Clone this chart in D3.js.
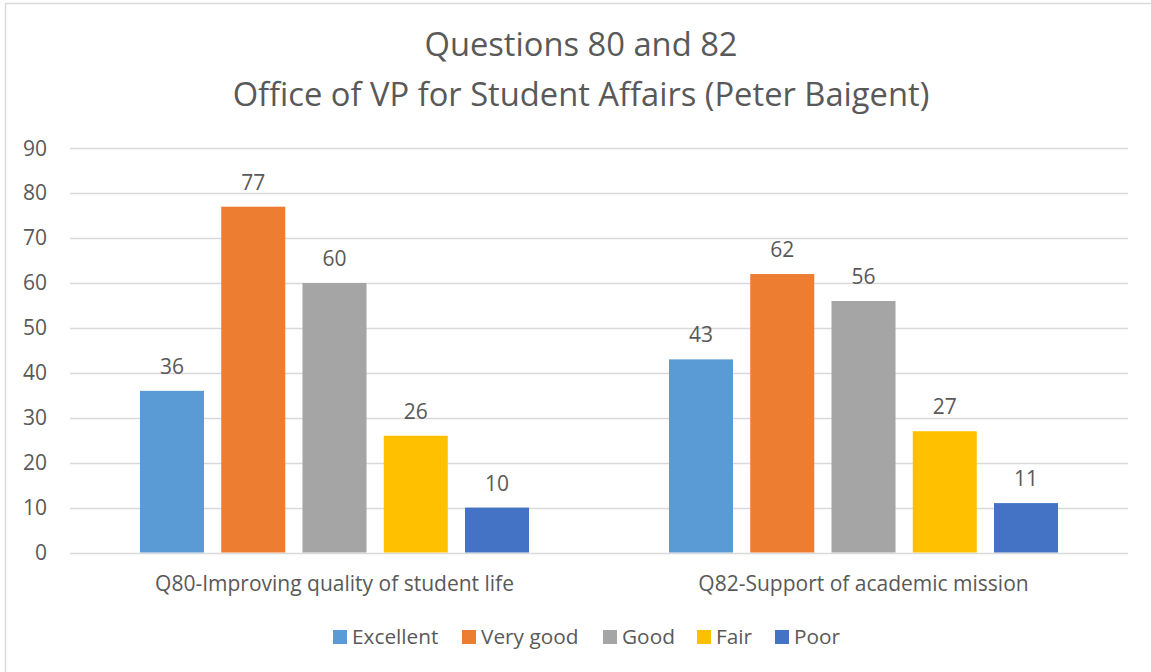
<!DOCTYPE html>
<html>
<head>
<meta charset="utf-8">
<script src="https://cdn.jsdelivr.net/npm/d3@7/dist/d3.min.js"></script>
<style>
  html, body { margin: 0; padding: 0; background: #fff; }
  svg { display: block; }
  text { font-family: "Open Sans", "Lato", sans-serif; fill: #595959; }
</style>
</head>
<body>
<svg id="chart" width="1151" height="672"></svg>
<script>
// Survey responses per question and rating
const categories = ["Q80-Improving quality of student life", "Q82-Support of academic mission"];
const seriesNames = ["Excellent", "Very good", "Good", "Fair", "Poor"];
const excellent = [36, 43];
const veryGood = [77, 62];
const good = [60, 56];
const fair = [26, 27];
const poor = [10, 11];
const yTicks = [0, 10, 20, 30, 40, 50, 60, 70, 80, 90];
const titleLines = ["Questions 80 and 82", "Office of VP for Student Affairs (Peter Baigent)"];

const seriesValues = [excellent, veryGood, good, fair, poor];
const colors = ["#5B9BD5", "#ED7D31", "#A5A5A5", "#FFC000", "#4472C4"];

const svg = d3.select("#chart");
const W = 1151, H = 672;

// outer chart frame
svg.append("rect")
  .attr("x", 5.5).attr("y", 3.5)
  .attr("width", W + 10).attr("height", H + 10)
  .attr("fill", "#fff").attr("stroke", "#D9D9D9").attr("stroke-width", 1.5);

// title
svg.append("text")
  .attr("x", 581).attr("y", 56)
  .attr("text-anchor", "middle")
  .style("font-size", "32.7px")
  .text(titleLines[0]);
svg.append("text")
  .attr("x", 581).attr("y", 106)
  .attr("text-anchor", "middle")
  .style("font-size", "32.7px")
  .text(titleLines[1]);

const plot = { left: 70, right: 1128, top: 148.3, bottom: 552.5 };

const y = d3.scaleLinear().domain([0, 90]).range([plot.bottom, plot.top]);
const x0 = d3.scaleBand().domain(categories).range([plot.left, plot.right]).padding(0);
const x1 = d3.scaleBand().domain(seriesNames).range([0, x0.bandwidth()])
  .paddingInner(0.212).paddingOuter(0.861);

// gridlines
svg.append("g")
  .selectAll("line")
  .data(yTicks)
  .join("line")
  .attr("x1", plot.left).attr("x2", plot.right)
  .attr("y1", d => Math.round(y(d)) + 0.5)
  .attr("y2", d => Math.round(y(d)) + 0.5)
  .attr("stroke", "#D9D9D9").attr("stroke-width", 1.5);

// y axis labels
const yAxis = d3.axisLeft(y).tickValues(yTicks).tickSize(0).tickPadding(0);
const gy = svg.append("g").attr("transform", `translate(47,0)`).call(yAxis);
gy.select(".domain").remove();
gy.selectAll("text").style("font-size", "21px").attr("fill", "#595959");

// x axis category labels
const xAxis = d3.axisBottom(x0).tickSize(0).tickPadding(0);
const gx = svg.append("g").attr("transform", `translate(0,${plot.bottom})`).call(xAxis);
gx.select(".domain").remove();
gx.selectAll("text").style("font-size", "21px").attr("fill", "#595959")
  .attr("y", 38).attr("dy", 0);

// bars + value labels
const rows = [];
categories.forEach((c, ci) => {
  seriesNames.forEach((s, si) => {
    rows.push({ cat: c, series: s, value: seriesValues[si][ci], color: colors[si] });
  });
});

svg.append("g")
  .selectAll("rect")
  .data(rows)
  .join("rect")
  .attr("x", d => x0(d.cat) + x1(d.series))
  .attr("width", x1.bandwidth())
  .attr("y", d => y(d.value))
  .attr("height", d => y(0) - y(d.value))
  .attr("fill", d => d.color);

svg.append("g")
  .selectAll("text")
  .data(rows)
  .join("text")
  .attr("x", d => x0(d.cat) + x1(d.series) + x1.bandwidth() / 2)
  .attr("y", d => y(d.value) - 17)
  .attr("text-anchor", "middle")
  .style("font-size", "21px")
  .text(d => d.value);

// legend
const legendX = [333, 462, 603, 697, 775];
const legend = svg.append("g");
seriesNames.forEach((s, i) => {
  legend.append("rect")
    .attr("x", legendX[i]).attr("y", 630)
    .attr("width", 14).attr("height", 14)
    .attr("fill", colors[i]);
  legend.append("text")
    .attr("x", legendX[i] + 19).attr("y", 644)
    .style("font-size", "20.8px")
    .text(s);
});
</script>
</body>
</html>
